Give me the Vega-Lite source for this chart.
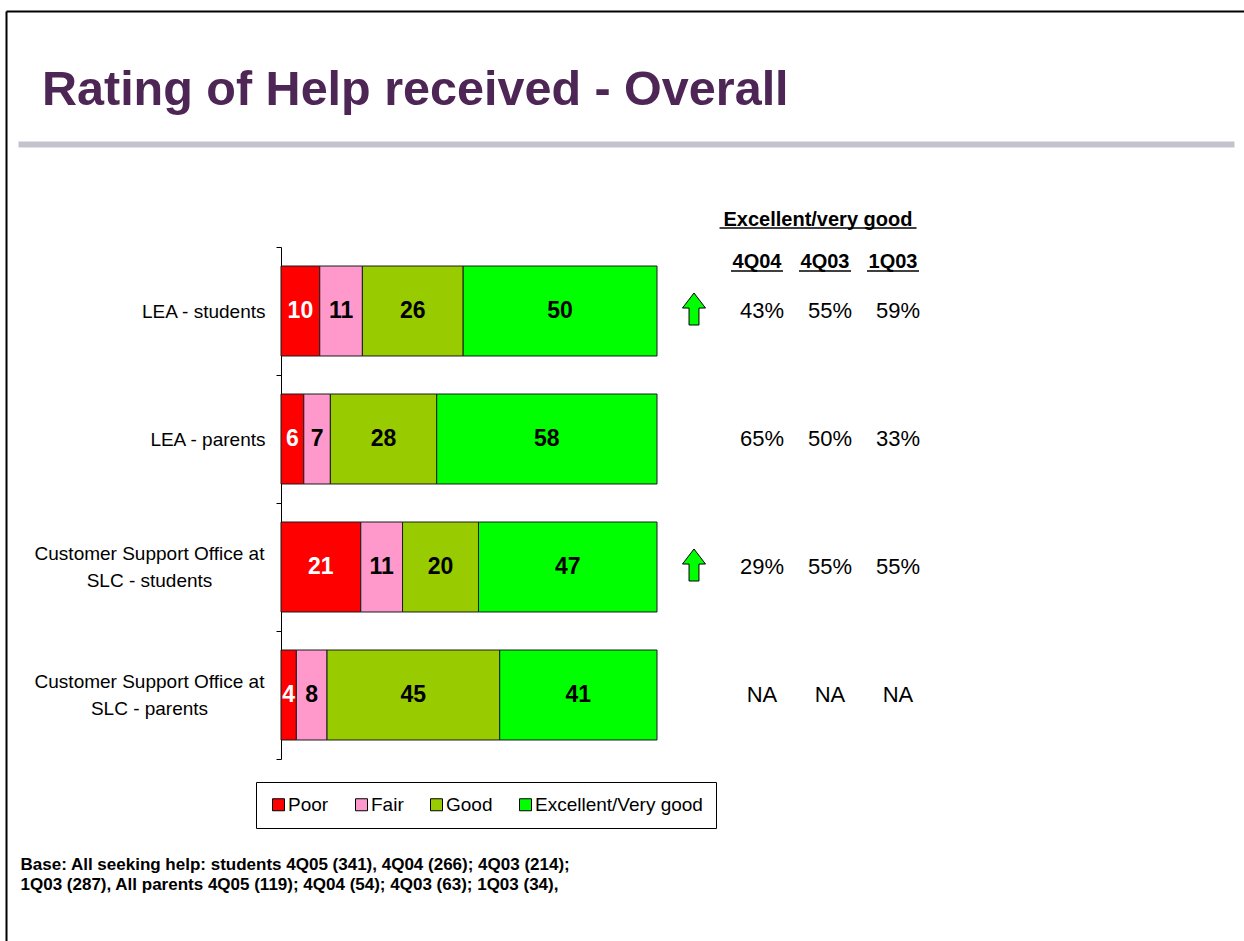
{
  "$schema": "https://vega.github.io/schema/vega-lite/v6.json",
  "width": 376,
  "height": 512,
  "autosize": {"type": "none"},
  "padding": {"left": 281, "top": 247, "right": 587, "bottom": 182},
  "background": "white",
  "title": {
    "text": "Rating of Help received - Overall",
    "anchor": "start",
    "frame": "group",
    "dx": -239,
    "dy": 142,
    "offset": 0,
    "font": "Liberation Sans",
    "fontSize": 48.5,
    "fontWeight": "bold",
    "color": "#4d2656",
    "baseline": "alphabetic"
  },
  "config": {
    "font": "Liberation Sans",
    "view": {"stroke": null}
  },
  "datasets": {
    "bars": [
      {"row": "LEA - students", "rating": "Poor", "rank": 1, "value": 10},
      {"row": "LEA - students", "rating": "Fair", "rank": 2, "value": 11},
      {"row": "LEA - students", "rating": "Good", "rank": 3, "value": 26},
      {"row": "LEA - students", "rating": "Excellent/Very good", "rank": 4, "value": 50},
      {"row": "LEA - parents", "rating": "Poor", "rank": 1, "value": 6},
      {"row": "LEA - parents", "rating": "Fair", "rank": 2, "value": 7},
      {"row": "LEA - parents", "rating": "Good", "rank": 3, "value": 28},
      {"row": "LEA - parents", "rating": "Excellent/Very good", "rank": 4, "value": 58},
      {"row": "Customer Support Office at SLC - students", "rating": "Poor", "rank": 1, "value": 21},
      {"row": "Customer Support Office at SLC - students", "rating": "Fair", "rank": 2, "value": 11},
      {"row": "Customer Support Office at SLC - students", "rating": "Good", "rank": 3, "value": 20},
      {"row": "Customer Support Office at SLC - students", "rating": "Excellent/Very good", "rank": 4, "value": 47},
      {"row": "Customer Support Office at SLC - parents", "rating": "Poor", "rank": 1, "value": 4},
      {"row": "Customer Support Office at SLC - parents", "rating": "Fair", "rank": 2, "value": 8},
      {"row": "Customer Support Office at SLC - parents", "rating": "Good", "rank": 3, "value": 45},
      {"row": "Customer Support Office at SLC - parents", "rating": "Excellent/Very good", "rank": 4, "value": 41}
    ],
    "table": [
      {"row": "LEA - students", "col": "4Q04", "label": "43%"},
      {"row": "LEA - students", "col": "4Q03", "label": "55%"},
      {"row": "LEA - students", "col": "1Q03", "label": "59%"},
      {"row": "LEA - parents", "col": "4Q04", "label": "65%"},
      {"row": "LEA - parents", "col": "4Q03", "label": "50%"},
      {"row": "LEA - parents", "col": "1Q03", "label": "33%"},
      {"row": "Customer Support Office at SLC - students", "col": "4Q04", "label": "29%"},
      {"row": "Customer Support Office at SLC - students", "col": "4Q03", "label": "55%"},
      {"row": "Customer Support Office at SLC - students", "col": "1Q03", "label": "55%"},
      {"row": "Customer Support Office at SLC - parents", "col": "4Q04", "label": "NA"},
      {"row": "Customer Support Office at SLC - parents", "col": "4Q03", "label": "NA"},
      {"row": "Customer Support Office at SLC - parents", "col": "1Q03", "label": "NA"}
    ],
    "arrows": [
      {"row": "LEA - students", "col": "trend"},
      {"row": "Customer Support Office at SLC - students", "col": "trend"}
    ],
    "headers": [
      {"col": "4Q04"},
      {"col": "4Q03"},
      {"col": "1Q03"}
    ],
    "super": [
      {"label": "Excellent/very good"}
    ]
  },
  "layer": [
    {
      "data": {"name": "bars"},
      "mark": {"type": "bar", "stroke": "#1a1a1a", "strokeWidth": 1},
      "encoding": {
        "y": {
          "field": "row",
          "type": "nominal",
          "sort": null,
          "scale": {
            "domain": ["LEA - students", "LEA - parents", "Customer Support Office at SLC - students", "Customer Support Office at SLC - parents"],
            "paddingInner": 0.297,
            "paddingOuter": 0.1485
          },
          "axis": null
        },
        "x": {
          "field": "value",
          "type": "quantitative",
          "stack": "normalize",
          "scale": {"domain": [0, 1], "nice": false},
          "axis": {
            "orient": "bottom",
            "labels": false,
            "ticks": false,
            "domain": false,
            "grid": false,
            "title": ["Base:  All seeking help: students 4Q05 (341), 4Q04 (266); 4Q03 (214);", "1Q03 (287), All parents 4Q05 (119); 4Q04 (54); 4Q03 (63); 1Q03 (34),"],
            "titleFont": "Liberation Sans",
            "titleFontSize": 17,
            "titleFontWeight": "bold",
            "titleColor": "black",
            "titleX": -261,
            "titleY": 110,
            "titleAlign": "left",
            "titleAnchor": "start",
            "titleBaseline": "alphabetic",
            "titleLineHeight": 20,
            "titleLimit": 1200
          }
        },
        "color": {
          "field": "rating",
          "type": "nominal",
          "scale": {
            "domain": ["Poor", "Fair", "Good", "Excellent/Very good"],
            "range": ["#ff0000", "#ff99cc", "#99cc00", "#00ff00"]
          },
          "legend": {
            "orient": "none",
            "legendX": -25,
            "legendY": 535,
            "direction": "horizontal",
            "title": null,
            "strokeColor": "black",
            "fillColor": "white",
            "padding": 13,
            "symbolType": "square",
            "symbolSize": 144,
            "symbolStrokeColor": "black",
            "symbolStrokeWidth": 1,
            "symbolOpacity": 1,
            "labelFont": "Liberation Sans",
            "labelFontSize": 19,
            "labelColor": "black",
            "labelOffset": 0,
            "labelLimit": 300,
            "columnPadding": 23
          }
        },
        "order": {"field": "rank", "type": "quantitative"}
      }
    },
    {
      "data": {"name": "bars"},
      "mark": {"type": "text", "font": "Liberation Sans", "fontSize": 23, "fontWeight": "bold", "baseline": "middle", "align": "center"},
      "encoding": {
        "y": {
          "field": "row",
          "type": "nominal",
          "sort": null,
          "scale": {"domain": ["LEA - students", "LEA - parents", "Customer Support Office at SLC - students", "Customer Support Office at SLC - parents"], "paddingInner": 0, "paddingOuter": 0},
          "axis": {
            "title": null,
            "orient": "left",
            "grid": false,
            "domainColor": "black",
            "domainWidth": 1,
            "ticks": true,
            "tickColor": "black",
            "tickSize": 5,
            "tickWidth": 1,
            "tickBand": "extent",
            "labelFont": "Liberation Sans",
            "labelFontSize": 19,
            "labelColor": "black",
            "labelLimit": 400,
            "labelBaseline": "middle",
            "labelAlign": "right",
            "labelPadding": 11,
            "labelExpr": "indexof(datum.label, ' at ') > 0 ? '' : datum.label"
          }
        },
        "x": {"field": "value", "type": "quantitative", "stack": "normalize", "bandPosition": 0.5, "scale": {"domain": [0, 1], "nice": false}, "axis": null},
        "detail": {"field": "rating"},
        "order": {"field": "rank", "type": "quantitative"},
        "text": {"field": "value", "type": "quantitative"},
        "color": {"condition": {"test": "datum.rating === 'Poor'", "value": "white"}, "value": "black"}
      }
    },
    {
      "data": {"name": "table"},
      "mark": {"type": "text", "font": "Liberation Sans", "fontSize": 22, "color": "black", "baseline": "middle", "align": "center"},
      "encoding": {
        "x": {"field": "col", "type": "nominal", "sort": null, "scale": {"type": "band", "domain": ["trend", "4Q04", "4Q03", "1Q03"], "range": [379, 651], "paddingInner": 0, "paddingOuter": 0}, "axis": null},
        "y": {
          "field": "row",
          "type": "nominal",
          "sort": null,
          "scale": {"domain": ["LEA - students", "LEA - parents", "Customer Support Office at SLC - students", "Customer Support Office at SLC - parents"], "paddingInner": 0, "paddingOuter": 0},
          "axis": {
            "title": null,
            "orient": "left",
            "grid": false,
            "domain": false,
            "ticks": false,
            "tickSize": 0,
            "labelFont": "Liberation Sans",
            "labelFontSize": 19,
            "labelColor": "black",
            "labelLimit": 400,
            "labelLineHeight": 27,
            "labelBaseline": "middle",
            "labelAlign": "center",
            "labelPadding": 132,
            "labelOffset": -13.5,
            "labelExpr": "indexof(datum.label, ' at ') > 0 ? [substring(datum.label, 0, indexof(datum.label, ' at ') + 3), substring(datum.label, indexof(datum.label, ' at ') + 4)] : ''"
          }
        },
        "text": {"field": "label"}
      }
    },
    {
      "data": {"name": "arrows"},
      "mark": {
        "type": "point",
        "shape": "M0,-1L0.72,-0.06L0.31,-0.06L0.31,1L-0.31,1L-0.31,-0.06L-0.72,-0.06Z",
        "size": 1024,
        "filled": true,
        "fill": "#00ff00",
        "stroke": "black",
        "strokeWidth": 1,
        "opacity": 1,
        "yOffset": -2
      },
      "encoding": {
        "x": {"field": "col", "type": "nominal", "sort": null, "scale": {"type": "band", "domain": ["trend", "4Q04", "4Q03", "1Q03"], "range": [379, 651], "paddingInner": 0, "paddingOuter": 0}, "axis": null},
        "y": {"field": "row", "type": "nominal", "sort": null, "scale": {"domain": ["LEA - students", "LEA - parents", "Customer Support Office at SLC - students", "Customer Support Office at SLC - parents"], "paddingInner": 0, "paddingOuter": 0}, "axis": null}
      }
    },
    {
      "data": {"name": "headers"},
      "mark": {"type": "text", "font": "Liberation Sans", "fontSize": 20, "fontWeight": "bold", "color": "black", "dx": -5, "dy": -49, "baseline": "middle", "align": "center"},
      "encoding": {
        "x": {"field": "col", "type": "nominal", "sort": null, "scale": {"type": "band", "domain": ["trend", "4Q04", "4Q03", "1Q03"], "range": [379, 651], "paddingInner": 0, "paddingOuter": 0}, "axis": null},
        "y": {"datum": "LEA - students", "type": "nominal", "scale": {"domain": ["LEA - students", "LEA - parents", "Customer Support Office at SLC - students", "Customer Support Office at SLC - parents"], "paddingInner": 0, "paddingOuter": 0}, "axis": null},
        "text": {"field": "col"}
      }
    },
    {
      "data": {"name": "headers"},
      "mark": {"type": "tick", "orient": "horizontal", "size": 52, "thickness": 1.5, "color": "black", "opacity": 1, "xOffset": -5, "yOffset": -40},
      "encoding": {
        "x": {"field": "col", "type": "nominal", "sort": null, "scale": {"type": "band", "domain": ["trend", "4Q04", "4Q03", "1Q03"], "range": [379, 651], "paddingInner": 0, "paddingOuter": 0}, "axis": null},
        "y": {"datum": "LEA - students", "type": "nominal", "scale": {"domain": ["LEA - students", "LEA - parents", "Customer Support Office at SLC - students", "Customer Support Office at SLC - parents"], "paddingInner": 0, "paddingOuter": 0}, "axis": null}
      }
    },
    {
      "data": {"name": "super"},
      "mark": {"type": "text", "font": "Liberation Sans", "fontSize": 20, "fontWeight": "bold", "color": "black", "baseline": "middle", "align": "center"},
      "encoding": {
        "x": {
          "field": "label",
          "type": "nominal",
          "scale": {"type": "band", "domain": ["Excellent/very good"], "range": [-263, 953], "paddingInner": 0, "paddingOuter": 1, "align": 0.7368},
          "axis": {
            "orient": "top",
            "offset": 103,
            "labels": false,
            "ticks": false,
            "grid": false,
            "title": null,
            "domainColor": "#c3c3cf",
            "domainWidth": 6,
            "domainCap": "butt"
          }
        },
        "y": {
          "field": "label",
          "type": "nominal",
          "scale": {"type": "band", "domain": ["Excellent/very good"], "range": [-236, 694], "paddingInner": 0, "paddingOuter": 1, "align": 0.0871},
          "axis": {
            "orient": "left",
            "offset": 275,
            "labels": false,
            "ticks": false,
            "grid": false,
            "title": null,
            "domainColor": "black",
            "domainWidth": 2
          }
        },
        "text": {"field": "label"}
      }
    },
    {
      "data": {"name": "super"},
      "mark": {"type": "tick", "orient": "horizontal", "size": 197, "thickness": 1.5, "color": "black", "opacity": 1, "yOffset": 8},
      "encoding": {
        "x": {
          "field": "label",
          "type": "nominal",
          "scale": {"type": "band", "domain": ["Excellent/very good"], "range": [-275, 963], "paddingInner": 0, "paddingOuter": 1, "align": 0.7339},
          "axis": {
            "orient": "top",
            "offset": 236,
            "labels": false,
            "ticks": false,
            "grid": false,
            "title": null,
            "domainColor": "black",
            "domainWidth": 2
          }
        },
        "y": {
          "field": "label",
          "type": "nominal",
          "scale": {"type": "band", "domain": ["Excellent/very good"], "range": [-236, 694], "paddingInner": 0, "paddingOuter": 1, "align": 0.0871},
          "axis": null
        }
      }
    }
  ],
  "resolve": {"scale": {"x": "independent", "y": "independent"}}
}
